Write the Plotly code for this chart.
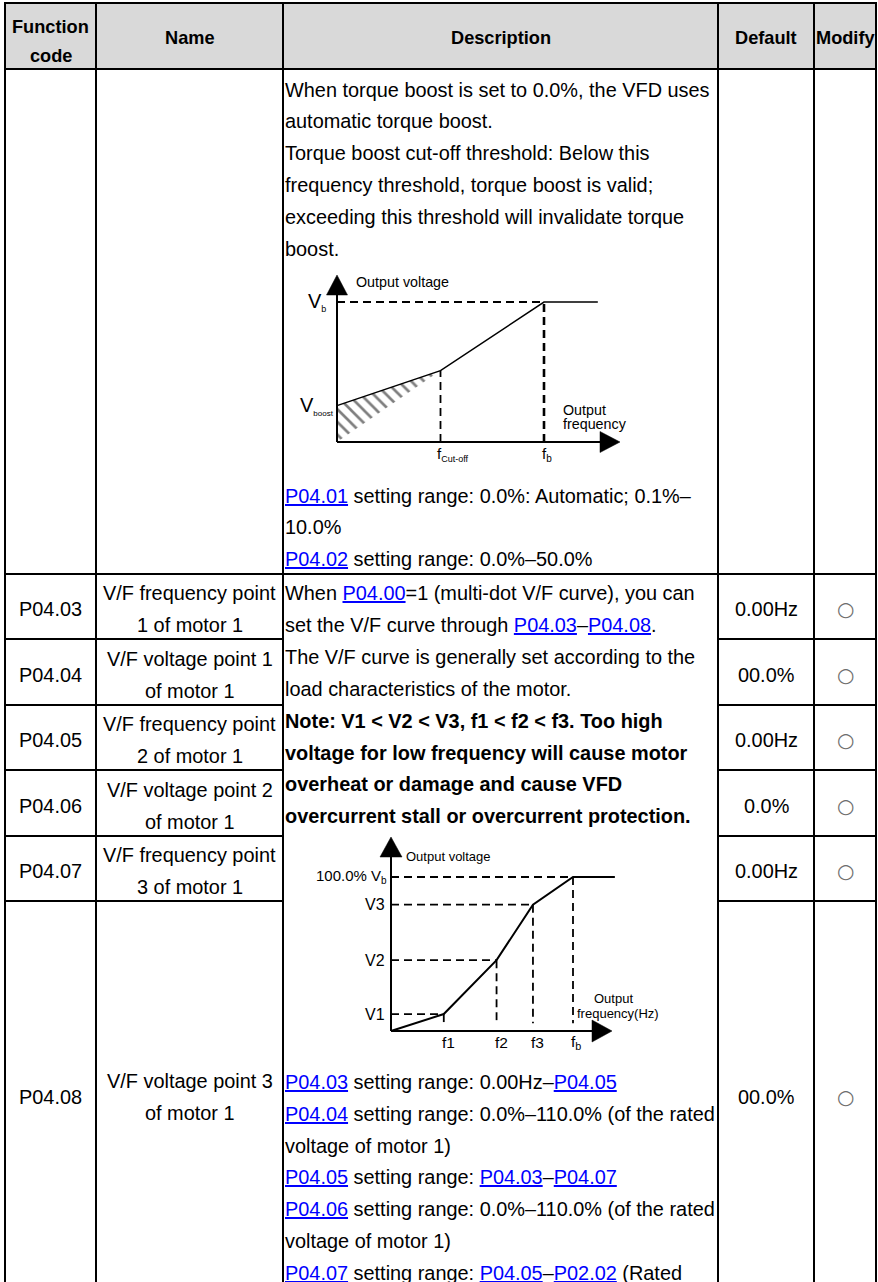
import plotly.graph_objects as go

W, H = 878, 1282
FONT = "Liberation Sans, Arial, sans-serif"
LINK = "#0000FF"


def link(code):
    return f"<span style='color:{LINK}'><u>{code}</u></span>"


# ---------------- table content ----------------
header_cells = [["Function", "code"], ["Name"], ["Description"], ["Default"], ["Modify"]]
codes = ["P04.03", "P04.04", "P04.05", "P04.06", "P04.07", "P04.08"]
names = [["V/F frequency point", "1 of motor 1"],
         ["V/F voltage point 1", "of motor 1"],
         ["V/F frequency point", "2 of motor 1"],
         ["V/F voltage point 2", "of motor 1"],
         ["V/F frequency point", "3 of motor 1"],
         ["V/F voltage point 3", "of motor 1"]]
defaults = ["0.00Hz", "00.0%", "0.00Hz", "0.0%", "0.00Hz", "00.0%"]
modify = ["○", "○", "○", "○", "○", "○"]

desc_boost = ["When torque boost is set to 0.0%, the VFD uses",
              "automatic torque boost.",
              "Torque boost cut-off threshold: Below this",
              "frequency threshold, torque boost is valid;",
              "exceeding this threshold will invalidate torque",
              "boost."]
desc_boost_range = [link("P04.01") + " setting range: 0.0%: Automatic; 0.1%–",
                    "10.0%",
                    link("P04.02") + " setting range: 0.0%–50.0%"]
desc_vf = ["When " + link("P04.00") + "=1 (multi-dot V/F curve), you can",
           "set the V/F curve through " + link("P04.03") + "–" + link("P04.08") + ".",
           "The V/F curve is generally set according to the",
           "load characteristics of the motor.",
           "<b>Note: V1 &lt; V2 &lt; V3, f1 &lt; f2 &lt; f3. Too high</b>",
           "<b>voltage for low frequency will cause motor</b>",
           "<b>overheat or damage and cause VFD</b>",
           "<b>overcurrent stall or overcurrent protection.</b>"]
desc_vf_range = [link("P04.03") + " setting range: 0.00Hz–" + link("P04.05"),
                 link("P04.04") + " setting range: 0.0%–110.0% (of the rated",
                 "voltage of motor 1)",
                 link("P04.05") + " setting range: " + link("P04.03") + "–" + link("P04.07"),
                 link("P04.06") + " setting range: 0.0%–110.0% (of the rated",
                 "voltage of motor 1)",
                 link("P04.07") + " setting range: " + link("P04.05") + "–" + link("P02.02") + " (Rated"]

# torque boost diagram: Hz / % of Vb  (0, f cut-off, f b, end)
boost_freq = [0, 25, 50, 63]
boost_volt = [26, 51, 100, 100]

# multi-dot V/F curve: (0, f1, f2, f3, fb, end)
vf_freq = [0, 14.5, 29, 39, 50, 61.5]
vf_volt = [0, 11, 46, 82, 100, 100]
vf_flabels = ["f1", "f2", "f3", "f<sub>b</sub>"]
vf_vlabels = ["V1", "V2", "V3"]

# ---------------- layout geometry (pixels) ----------------
COL_X = [5, 96, 283, 718, 814, 876]
ROW_Y = [3, 69, 574, 639, 705, 770, 836, 901]
LINE = 31.8
TXT = 19.9

fig = go.Figure()


def ann(x, y, text, size=TXT, xanchor="left", color="black", xref="x", yref="y", family=FONT, **kw):
    fig.add_annotation(x=x, y=y, xref=xref, yref=yref, text=text, showarrow=False,
                       xanchor=xanchor, yanchor="middle", borderpad=0,
                       font=dict(family=family, size=size, color=color), **kw)


# header background
fig.add_shape(type="rect", x0=COL_X[0], x1=COL_X[-1], y0=ROW_Y[0], y1=ROW_Y[1],
              xref="x", yref="y", fillcolor="#D9D9D9", line_width=0, layer="below")

# grid lines
lw = dict(color="black", width=2)
for y in ROW_Y[:3]:
    fig.add_shape(type="line", x0=COL_X[0] - 1, x1=COL_X[-1] + 1, y0=y, y1=y, xref="x", yref="y", line=lw)
for y in ROW_Y[3:]:
    fig.add_shape(type="line", x0=COL_X[0], x1=COL_X[2], y0=y, y1=y, xref="x", yref="y", line=lw)
    fig.add_shape(type="line", x0=COL_X[3], x1=COL_X[-1], y0=y, y1=y, xref="x", yref="y", line=lw)
for x in COL_X:
    fig.add_shape(type="line", x0=x, x1=x, y0=ROW_Y[0] - 1, y1=H + 5, xref="x", yref="y", line=lw)

# header text
for i, cell in enumerate(header_cells):
    cx = (COL_X[i] + COL_X[i + 1]) / 2
    if len(cell) == 2:
        ann(cx, 26.5, "<b>%s</b>" % cell[0], size=18.2, xanchor="center")
        ann(cx, 55.5, "<b>%s</b>" % cell[1], size=18.2, xanchor="center")
    else:
        ann(cx, 38, "<b>%s</b>" % cell[0], size=18.2, xanchor="center")

# rows P04.03 .. P04.08
row_centers = [(ROW_Y[i] + ROW_Y[i + 1]) / 2 + 2.5 for i in range(2, 7)] + [1097]
for i, cy in enumerate(row_centers):
    ann((COL_X[0] + COL_X[1]) / 2, cy, codes[i], xanchor="center")
    ann((COL_X[1] + COL_X[2]) / 2, cy - 16, names[i][0], xanchor="center")
    ann((COL_X[1] + COL_X[2]) / 2, cy + 16, names[i][1], xanchor="center")
    ann((COL_X[3] + COL_X[4]) / 2, cy, defaults[i], xanchor="center")
    ann((COL_X[4] + COL_X[5]) / 2, cy, modify[i], size=20, color="#6E6E6E", xanchor="center",
        family="DejaVu Sans")

# description lines
DX = 284
for i, t in enumerate(desc_boost):
    ann(DX, 89.5 + i * LINE, t)
for i, t in enumerate(desc_boost_range):
    ann(DX, 495.5 + i * LINE, t)
for i, t in enumerate(desc_vf):
    ann(DX, 593 + i * 31.9, t)
for i, t in enumerate(desc_vf_range):
    ann(DX, 1082 + i * LINE, t)


# ---------------- diagrams ----------------
def sub_axes(n, origin, scale, box):
    ox, oy = origin
    sx, sy = scale
    left, top, right, bottom = box
    fig.update_layout(**{
        "xaxis%d" % n: dict(domain=[left / W, right / W], range=[(left - ox) / sx, (right - ox) / sx],
                            visible=False, anchor="y%d" % n, fixedrange=True),
        "yaxis%d" % n: dict(domain=[1 - bottom / H, 1 - top / H], range=[(oy - bottom) / sy, (oy - top) / sy],
                            visible=False, anchor="x%d" % n, fixedrange=True),
    })


def seg(n, x, y, width=1.6, dash=None, **kw):
    fig.add_trace(go.Scatter(x=x, y=y, mode="lines", xaxis="x%d" % n, yaxis="y%d" % n,
                             line=dict(color="black", width=width, dash=dash),
                             hoverinfo="skip", showlegend=False, **kw))


def axes_arrows(n, scale, x_end_px, y_end_px, head_len, head_half):
    sx, sy = scale
    xe, ye = x_end_px / sx, y_end_px / sy
    seg(n, [0, xe], [0, 0], width=2)
    seg(n, [0, 0], [0, ye], width=2)
    hx, hy = head_len / sx, head_half / sy
    seg(n, [xe, xe + hx, xe, xe], [-hy, 0, hy, -hy], width=0.5, fill="toself", fillcolor="black")
    hx, hy = head_half / sx, head_len / sy
    seg(n, [-hx, 0, hx, -hx], [ye, ye + hy, ye, ye], width=0.5, fill="toself", fillcolor="black")


DASH = "8px,5px"

# diagram 1: torque boost
S1 = (4.14, 1.40)
sub_axes(2, (337, 442), S1, (300, 270, 640, 470))
fig.add_trace(go.Scatter(x=[0, boost_freq[1], 0, 0], y=[0, boost_volt[1], boost_volt[0], 0],
                         mode="lines", xaxis="x2", yaxis="y2", fill="toself", fillcolor="white",
                         fillpattern=dict(shape="\\", size=9, solidity=0.3, fgcolor="black", bgcolor="white"),
                         line=dict(width=0), hoverinfo="skip", showlegend=False))
seg(2, boost_freq, boost_volt, width=1.5)
seg(2, [0, boost_freq[2]], [boost_volt[2], boost_volt[2]], width=2, dash=DASH)
seg(2, [boost_freq[1], boost_freq[1]], [0, boost_volt[1]], width=1.8, dash=DASH)
seg(2, [boost_freq[2], boost_freq[2]], [0, boost_volt[2]], width=2.6, dash=DASH)
axes_arrows(2, S1, 600 - 337, 442 - 295, 20, 10.5)

ann(355, 282, "Output voltage", size=14.3)
ann(0, boost_volt[2], "V<sub><span style='font-size:9px'>b</span></sub>", size=20,
    xanchor="right", xref="x2", yref="y2", xshift=-10)
ann(0, boost_volt[0], "V<sub><span style='font-size:8px'>boost</span></sub>", size=20,
    xanchor="right", xref="x2", yref="y2", xshift=-2)
ann(boost_freq[1], 0, "f<sub><span style='font-size:9px'>Cut-off</span></sub>", size=15,
    xanchor="left", xref="x2", yref="y2", xshift=-5, yshift=-12)
ann(boost_freq[2], 0, "f<sub><span style='font-size:10px'>b</span></sub>", size=15,
    xanchor="left", xref="x2", yref="y2", xshift=-3, yshift=-12)
ann(562, 410, "Output", size=14.3)
ann(562, 424, "frequency", size=14.3)

# diagram 2: multi-dot V/F curve
S2 = (3.64, 1.54)
sub_axes(3, (391, 1031), S2, (360, 830, 630, 1055))
seg(3, vf_freq, vf_volt, width=2)
for i in range(1, 5):
    seg(3, [0, vf_freq[i]], [vf_volt[i], vf_volt[i]], width=1.8, dash=DASH)
    seg(3, [vf_freq[i], vf_freq[i]], [vf_volt[i], 5], width=1.8, dash=DASH)
axes_arrows(3, S2, 592 - 391, 1031 - 857, 20, 11)

ann(405, 856, "Output voltage", size=13)
ann(0, vf_volt[4], "100.0% V<sub><span style='font-size:10px'>b</span></sub>", size=15,
    xanchor="right", xref="x3", yref="y3", xshift=-3)
for i, lab in enumerate(vf_vlabels):
    ann(0, vf_volt[i + 1], lab, size=16, xanchor="right", xref="x3", yref="y3", xshift=-5)
for i, lab in enumerate(vf_flabels):
    ann(vf_freq[i + 1], 0, lab, size=15.5, xanchor="left", xref="x3", yref="y3", xshift=-3, yshift=-11)
ann(593, 998, "Output", size=13)
ann(576, 1013, "frequency(Hz)", size=13)

fig.update_layout(
    width=W, height=H, margin=dict(l=0, r=0, t=0, b=0),
    paper_bgcolor="white", plot_bgcolor="rgba(0,0,0,0)", showlegend=False,
    xaxis=dict(range=[0, W], domain=[0, 1], visible=False, fixedrange=True),
    yaxis=dict(range=[H, 0], domain=[0, 1], visible=False, fixedrange=True),
)

# the page body has a default 8px margin; drop it so the figure fills the window
fig.write_html("out.html", config={"displayModeBar": False},
               post_script="document.body.style.margin='0px';")
